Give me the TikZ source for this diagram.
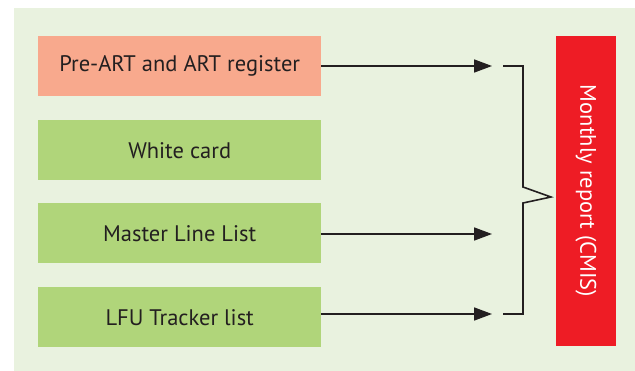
\documentclass[tikz,border=0pt]{standalone}
\usepackage{fontspec}
\setmainfont{PT Sans}
\usetikzlibrary{arrows.meta}
\definecolor{panel}{HTML}{E9F2DF}
\definecolor{salmon}{HTML}{F8A98D}
\definecolor{leaf}{HTML}{B0D57A}
\definecolor{alert}{HTML}{EE1C25}
\definecolor{ink}{HTML}{231F20}
\tikzset{
  label font/.style={font=\fontsize{22.5}{26}\selectfont},
  srcbox/.style={fill=leaf, draw=none, minimum width=283pt, minimum height=60pt,
    inner sep=0pt, anchor=north west, text=ink, label font},
  flow/.style={draw=ink, line width=1.6pt, -{Triangle[length=18pt,width=13pt]}},
  brace/.style={draw=ink, line width=1.6pt, line join=miter},
}
\begin{document}
\begin{tikzpicture}[x=1pt, y=-1pt]
  \useasboundingbox (0,0) rectangle (635,371);
  % background panel
  \fill[panel] (14,8) rectangle (635,371);

  % source records
  \node[srcbox, fill=salmon] (b1) at (38,36)  {Pre-ART and ART register};
  \node[srcbox]             (b2) at (38,120) {White card};
  \node[srcbox]             (b3) at (38,203) {Master Line List};
  \node[srcbox]             (b4) at (38,287) {LFU Tracker list};

  % monthly report
  \node[fill=alert, minimum width=310pt, minimum height=60pt, inner sep=0pt,
        rotate=-90, text=white, label font]
        (rep) at (586,191) {Monthly report (CMIS)};

  % arrow targets
  \coordinate (t1) at (492,66);
  \coordinate (t3) at (492,234);
  \coordinate (t4) at (492,314);

  \draw[flow] (b1.east |- t1) -- (t1);
  \draw[flow] (b3.east |- t3) -- (t3);
  \draw[flow] (b4.east |- t4) -- (t4);

  % bracket gathering the arrows
  \coordinate (k1) at (503,66);
  \coordinate (k2) at (523,66);
  \coordinate (k3) at (523,187);
  \coordinate (kp) at (551,197);
  \coordinate (k4) at (523,203);
  \coordinate (k5) at (523,314);
  \coordinate (k6) at (503,314);
  \draw[brace] (k1) -- (k2) -- (k3) -- (kp) -- (k4) -- (k5) -- (k6);
\end{tikzpicture}
\end{document}
